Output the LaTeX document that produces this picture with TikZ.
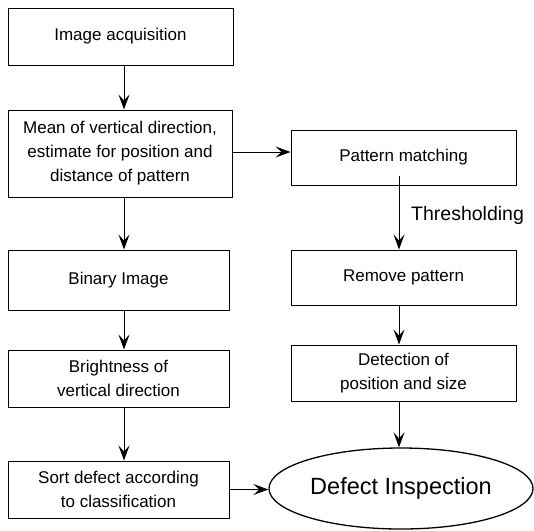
\documentclass[tikz,border=0pt]{standalone}
\usepackage{fontspec}
\setmainfont{Liberation Sans}
\usetikzlibrary{arrows.meta,shapes.geometric}
\begin{document}
\begin{tikzpicture}[x=1pt,y=-1pt,
  box/.style={draw,line width=1pt,rectangle,inner sep=0pt,align=center,
    font=\fontsize{17}{24}\selectfont},
  flow/.style={line width=1pt,-{Stealth[length=15pt,width=11pt,inset=6pt]}}]
\useasboundingbox (0,0) rectangle (534,530);
% arrow columns
\coordinate (lc) at (124,0);
\coordinate (rc) at (399,0);
% left column
\node[box,minimum width=225pt,minimum height=57pt] (b1) at (120.5,36.5) {Image acquisition};
\node[box,minimum width=224pt,minimum height=87pt] (b2) at (120,153.5)
  {Mean of vertical direction,\\estimate for position and\\distance of pattern};
\node[box,minimum width=221pt,minimum height=60pt] (b3) at (118.5,280) {Binary Image};
\node[box,minimum width=221pt,minimum height=57pt] (b4) at (118.5,378.5)
  {Brightness of\\vertical direction};
\node[box,minimum width=221pt,minimum height=57pt] (b5) at (118.5,489.5)
  {Sort defect according\\to classification};
% right column
\node[box,minimum width=225pt,minimum height=55pt] (p1) at (403.5,157.5) {Pattern matching};
\node[box,minimum width=225pt,minimum height=55pt] (p2) at (403.5,277.5) {Remove pattern};
\node[box,minimum width=225pt,minimum height=56pt] (p3) at (403.5,373)
  {Detection of\\position and size};
\node[draw,line width=1.3pt,ellipse,inner sep=0pt,minimum width=264pt,minimum height=81pt,
  font=\fontsize{23.5}{28}\selectfont] (ell) at (401,488.5) {Defect Inspection};
\node[anchor=west,inner sep=0pt,font=\fontsize{19.5}{24}\selectfont] (th) at (411,215) {Thresholding};
\coordinate (hy) at (0,152);
% connectors
\draw[flow] (b1.south -| lc) -- (b2.north -| lc);
\draw[flow] (b2.south -| lc) -- (b3.north -| lc);
\draw[flow] (b3.south -| lc) -- (b4.north -| lc);
\draw[flow] (b4.south -| lc) -- (b5.north -| lc);
\draw[flow] (b2.east |- hy) -- (p1.west |- hy);
\draw[flow] ([yshift=10pt]p1.south -| rc) -- (p2.north -| rc);
\draw[flow] (p2.south -| rc) -- (p3.north -| rc);
\draw[flow] (p3.south -| rc) -- (ell.north -| rc);
\draw[flow] (b5.east) -- (b5.east -| ell.west);
\end{tikzpicture}
\end{document}
